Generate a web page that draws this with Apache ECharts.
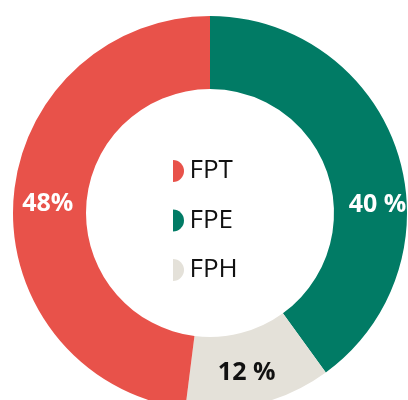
<!DOCTYPE html>
<html>
<head>
<meta charset="utf-8">
<script src="https://cdn.jsdelivr.net/npm/echarts@6/dist/echarts.min.js"></script>
<style>
  html, body { margin: 0; padding: 0; background: #fff; }
  #chart { width: 408px; height: 400px; }
</style>
</head>
<body>
<div id="chart"></div>
<script>
// slices go clockwise from the top
var names = ['FPE', 'FPH', 'FPT'];
var values = [40, 12, 48];
var labels = ['40 %', '12 %', '48%'];
var legendOrder = ['FPT', 'FPE', 'FPH'];

var colors = ['#017b65', '#e4e1d9', '#e8524a'];
var labelColors = ['#ffffff', '#111111', '#ffffff'];
var labelOffsets = [[12, 42], [-4, 2], [1, 1]];

var chart = echarts.init(document.getElementById('chart'));

var seriesData = [];
for (var i = 0; i < names.length; i++) {
  seriesData.push({
    name: names[i],
    value: values[i],
    itemStyle: { color: colors[i] },
    label: {
      color: labelColors[i],
      offset: labelOffsets[i],
      formatter: labels[i]
    }
  });
}

var options = {
  animation: false,
  legend: {
    orient: 'vertical',
    left: 173,
    top: 158,
    padding: 0,
    data: legendOrder,
    icon: 'path://M0,0 A10,10 0 0,1 0,20 Z',
    itemWidth: 12,
    itemHeight: 22,
    itemGap: 23.5,
    selectedMode: false,
    textStyle: {
      fontFamily: 'Open Sans',
      fontSize: 26,
      lineHeight: 22,
      color: '#111',
      padding: [0, 0, 0, 0]
    }
  },
  series: [
    {
      type: 'pie',
      center: [210, 213],
      radius: [124, 197],
      startAngle: 90,
      clockwise: true,
      silent: true,
      label: {
        show: true,
        position: 'inside',
        fontFamily: 'Open Sans',
        fontWeight: 'bold',
        fontSize: 25
      },
      labelLine: { show: false },
      data: seriesData
    }
  ]
};

chart.setOption(options);
</script>
</body>
</html>
